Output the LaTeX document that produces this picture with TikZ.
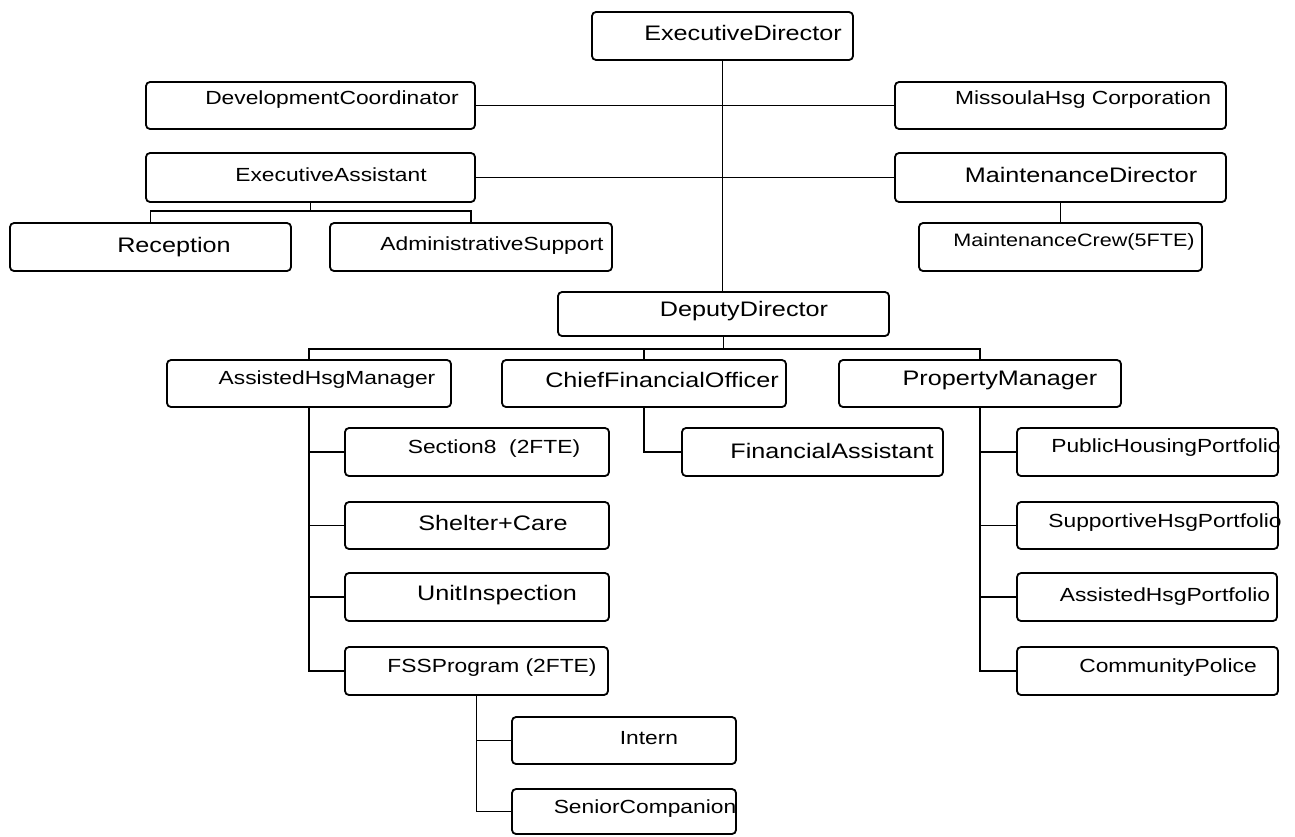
\documentclass[tikz,border=0pt]{standalone}
\usepackage{fontspec}
\setmainfont{Liberation Sans}[FakeStretch=1.2]
\usetikzlibrary{calc}
\tikzset{
  box/.style={draw, line width=1.8pt, rounded corners=4pt, fill=white, inner sep=0pt, outer sep=0pt},
  conn/.style={line width=1.8pt},
  lg/.style={font=\fontsize{21}{24}\selectfont, inner sep=0pt},
  sm/.style={font=\fontsize{19}{22}\selectfont, inner sep=0pt}
}
\newcommand\bx[5]{\node[box, minimum width={(#4-#2)*1pt}, minimum height={(#5-#3)*1pt}] (#1) at ({(#2+#4)/2},{(#3+#5)/2}) {};}
\begin{document}
\begin{tikzpicture}[x=1pt,y=-1pt]
\fill[white] (0,0) rectangle (1295,836);
\useasboundingbox (0,0) rectangle (1295,836);
% boxes
\bx{ed}{592}{12}{853}{60}
\bx{dc}{146}{82}{475}{129}
\bx{mhc}{895}{82}{1226}{129}
\bx{ea}{146}{153}{475}{202}
\bx{md}{895}{153}{1226}{202}
\bx{rec}{10}{223}{291}{271}
\bx{adm}{330}{223}{612}{271}
\bx{mc}{919}{223}{1202}{271}
\bx{dd}{558}{292}{889}{336}
\bx{ahm}{167}{360}{451}{407}
\bx{cfo}{502}{360}{786}{407}
\bx{pm}{839}{360}{1121}{407}
\bx{s8}{345}{428}{609}{476}
\bx{fa}{682}{428}{943}{476}
\bx{php}{1017}{428}{1278}{476}
\bx{shc}{345}{502}{609}{549}
\bx{shp}{1017}{502}{1278}{549}
\bx{ui}{345}{573}{609}{621}
\bx{ahp}{1017}{573}{1277}{621}
\bx{fss}{345}{647}{608}{695}
\bx{cp}{1017}{647}{1278}{695}
\bx{intern}{512}{717}{736}{764}
\bx{sc}{512}{789}{736}{834}
% connectors
\draw[conn] (ed.south) -- (ed.south |- dd.north);
\draw[conn] (dc.east) -- (mhc.west);
\draw[conn] (ea.east) -- (md.west);
\coordinate (eabar) at ($(ea.south)+(0,9)$);
\draw[conn] (ea.south) -- (eabar);
\draw[conn] (rec.north) |- (eabar) -| (adm.north);
\draw[conn] (md.south) -- (mc.north);
\coordinate (ddbar) at ($(dd.south)+(0,13)$);
\draw[conn] (dd.south) -- (ddbar);
\draw[conn] (ahm.north) |- (ddbar) -| (pm.north);
\draw[conn] (cfo.north) -- (cfo.north |- ddbar);
\draw[conn] (ahm.south) |- (fss.west);
\draw[conn] (ahm.south |- s8.west) -- (s8.west);
\draw[conn] (ahm.south |- shc.west) -- (shc.west);
\draw[conn] (ahm.south |- ui.west) -- (ui.west);
\draw[conn] (cfo.south) |- (fa.west);
\draw[conn] (pm.south) |- (cp.west);
\draw[conn] (pm.south |- php.west) -- (php.west);
\draw[conn] (pm.south |- shp.west) -- (shp.west);
\draw[conn] (pm.south |- ahp.west) -- (ahp.west);
\draw[conn] (fss.south) |- (sc.west);
\draw[conn] (fss.south |- intern.west) -- (intern.west);
% texts
\node[lg] (edt) at (743,33) {ExecutiveDirector};
\node[sm] (dct) at (332,100) {DevelopmentCoordinator};
\node[sm] (mhct) at (1083,100) {MissoulaHsg Corporation};
\node[sm] (eat) at (331,175) {ExecutiveAssistant};
\node[lg] (mdt) at (1081,175) {MaintenanceDirector};
\node[lg] (rect) at (174,247) {Reception};
\node[sm] (admt) at (492,246) {AdministrativeSupport};
\node[sm, font=\fontsize{18}{22}\selectfont] (mct) at (1074,242) {MaintenanceCrew(5FTE)};
\node[lg] (ddt) at (744,311) {DeputyDirector};
\node[sm] (ahmt) at (327,380) {AssistedHsgManager};
\node[lg] (cfot) at (662,380) {ChiefFinancialOfficer};
\node[lg] (pmt) at (1000,380) {PropertyManager};
\node[sm] (s8t) at (494,449) {Section8~~(2FTE)};
\node[lg] (fat) at (832,451) {FinancialAssistant};
\node[sm] (phpt) at (1166,448) {PublicHousingPortfolio};
\node[lg] (shct) at (493,523) {Shelter+Care};
\node[sm] (shpt) at (1165,523) {SupportiveHsgPortfolio};
\node[lg] (uit) at (497,595) {UnitInspection};
\node[sm] (ahpt) at (1165,597) {AssistedHsgPortfolio};
\node[sm] (fsst) at (492,668) {FSSProgram (2FTE)};
\node[sm] (cpt) at (1168,668) {CommunityPolice};
\node[sm] (intt) at (649,738) {Intern};
\node[sm] (sct) at (645,809) {SeniorCompanion};
\end{tikzpicture}
\end{document}
